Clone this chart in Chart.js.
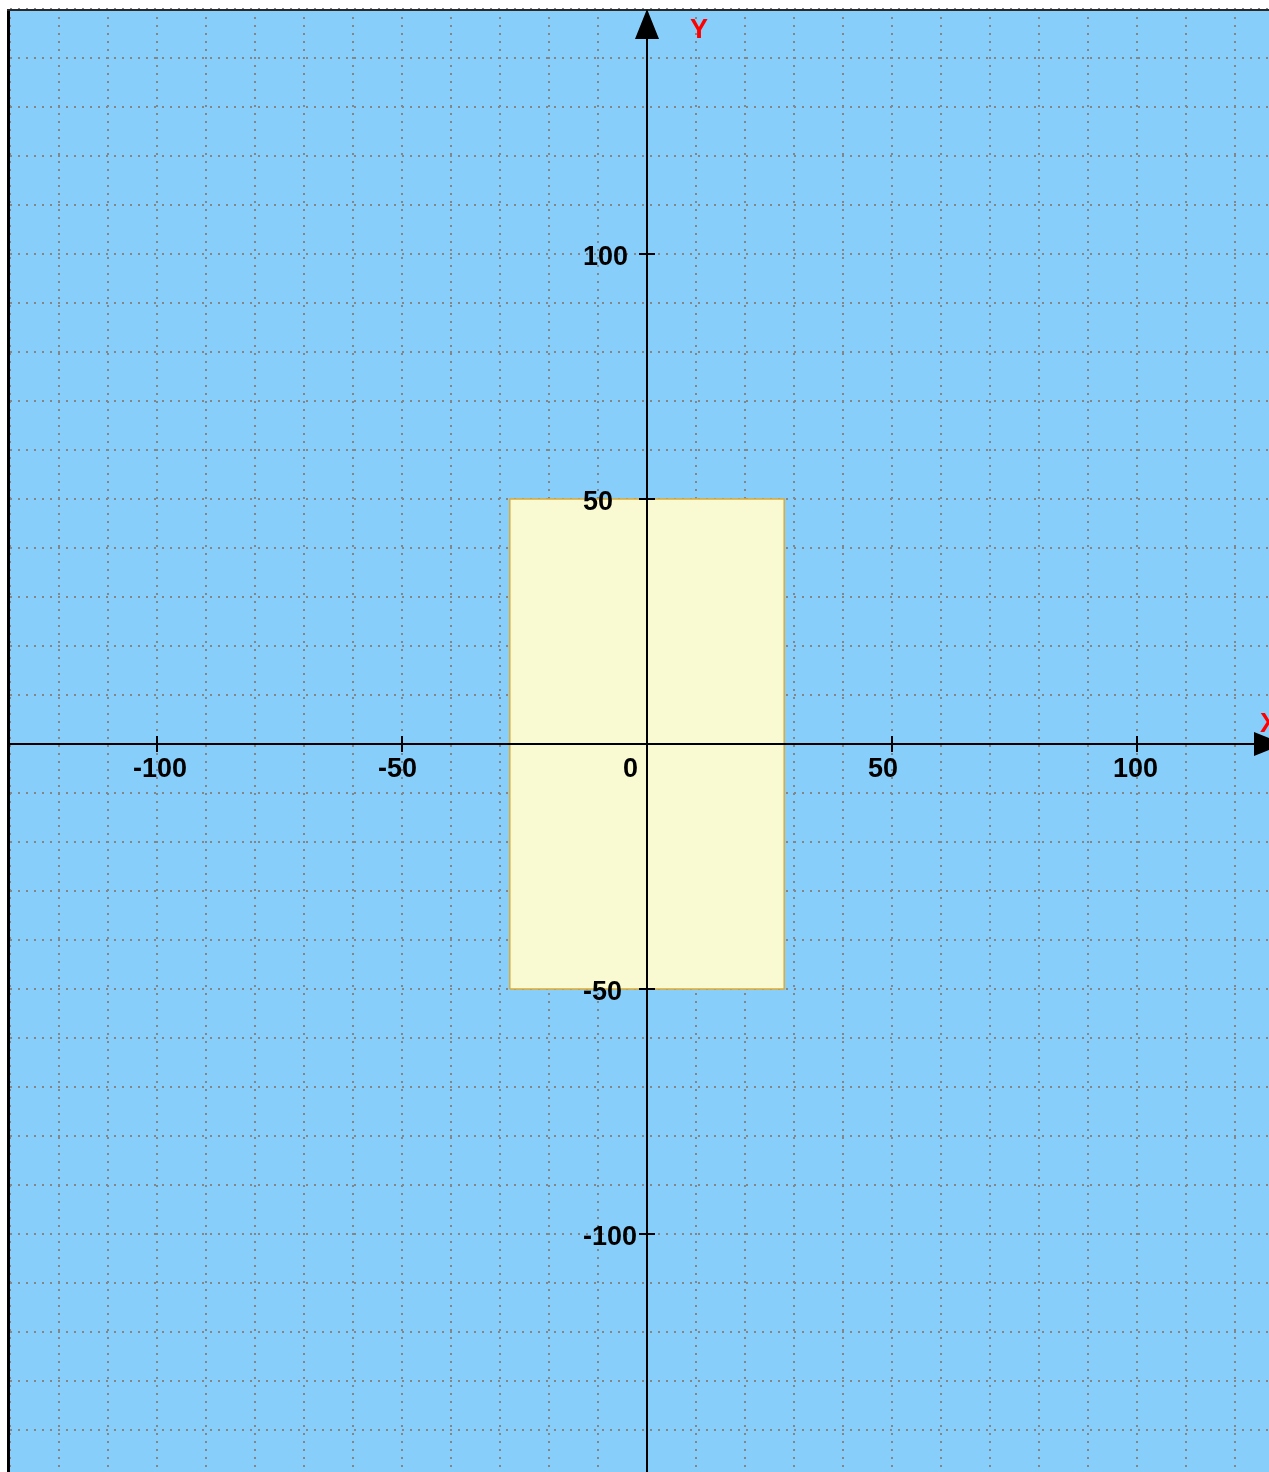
<!DOCTYPE html>
<html>
<head>
<meta charset="utf-8">
<script src="https://cdn.jsdelivr.net/npm/chart.js@4/dist/chart.umd.min.js"></script>
<style>
  html, body { margin: 0; padding: 0; background: #fff; overflow: hidden; }
  #plot { position: absolute; left: 7px; top: 8px; }
</style>
</head>
<body>
<canvas id="plot" width="1290" height="1490"></canvas>
<script>
// shape corners (closed)
const rectX = [-28, -28, 28, 28, -28];
const rectY = [-50, 50, 50, -50, -50];
// axis labels
const xTicks = [-100, -50, 0, 50, 100];
const yTicks = [100, 50, -50, -100];
const xRange = [-130, 130];
const yRange = [-150, 150];

var pts = rectX.map(function (x, i) { return { x: x, y: rectY[i] }; });

// background + frame + axes
const planePlugin = {
  id: 'plane',
  beforeDraw(chart) {
    const ctx = chart.ctx, a = chart.chartArea;
    ctx.save();
    ctx.fillStyle = '#87CEFA';
    ctx.fillRect(a.left, a.top, a.right - a.left, a.bottom - a.top);
    ctx.restore();
  },
  afterDraw(chart) {
    const ctx = chart.ctx, a = chart.chartArea;
    const sx = chart.scales.x, sy = chart.scales.y;
    const x0 = sx.getPixelForValue(0), y0 = sy.getPixelForValue(0);
    ctx.save();
    // frame
    ctx.fillStyle = '#000';
    ctx.fillRect(0, 1, 3, chart.height);
    ctx.fillStyle = '#2a2a2a';
    ctx.fillRect(0, 1, chart.width, 2);

    ctx.strokeStyle = '#000';
    ctx.fillStyle = '#000';
    ctx.lineWidth = 2;
    // axes
    ctx.beginPath();
    ctx.moveTo(x0, sy.getPixelForValue(yRange[1]) + 20);
    ctx.lineTo(x0, a.bottom);
    ctx.moveTo(a.left, y0);
    ctx.lineTo(sx.getPixelForValue(xRange[1]) - 20, y0);
    ctx.stroke();
    // arrows
    let ty = sy.getPixelForValue(yRange[1]);
    ctx.beginPath();
    ctx.moveTo(x0, ty);
    ctx.lineTo(x0 - 12, ty + 30);
    ctx.lineTo(x0 + 12, ty + 30);
    ctx.closePath();
    ctx.fill();
    let tx = sx.getPixelForValue(xRange[1]);
    ctx.beginPath();
    ctx.moveTo(tx, y0);
    ctx.lineTo(tx - 30, y0 - 12);
    ctx.lineTo(tx - 30, y0 + 12);
    ctx.closePath();
    ctx.fill();

    // ticks and labels
    ctx.font = 'bold 27px "Liberation Sans", Arial, sans-serif';
    ctx.textAlign = 'left';
    ctx.textBaseline = 'middle';
    xTicks.forEach(function (v) {
      const px = sx.getPixelForValue(v);
      if (v !== 0) {
        ctx.beginPath();
        ctx.moveTo(px, y0 - 8);
        ctx.lineTo(px, y0 + 8);
        ctx.stroke();
      }
      ctx.fillText(String(v), px - 24, y0 + 26);
    });
    yTicks.forEach(function (v) {
      const py = sy.getPixelForValue(v);
      ctx.beginPath();
      ctx.moveTo(x0 - 8, py);
      ctx.lineTo(x0 + 8, py);
      ctx.stroke();
      ctx.fillText(String(v), x0 - 64, py + 4);
    });

    // axis names
    ctx.fillStyle = '#ff0000';
    ctx.fillText('Y', x0 + 43, ty + 22);
    ctx.fillText('X', tx - 24, y0 - 19);
    ctx.restore();
  }
};

new Chart(document.getElementById('plot'), {
  type: 'scatter',
  data: {
    datasets: [{
      data: pts,
      showLine: true,
      fill: 'shape',
      backgroundColor: '#FAFAD2',
      borderColor: '#DDA935',
      borderWidth: 1.5,
      pointRadius: 0,
      tension: 0
    }]
  },
  options: {
    responsive: false,
    animation: false,
    events: [],
    layout: { padding: { left: 3, top: 1, right: 13, bottom: 19 } },
    plugins: { legend: { display: false }, tooltip: { enabled: false } },
    scales: {
      x: {
        type: 'linear', min: xRange[0], max: xRange[1], z: 1,
        ticks: { display: false, stepSize: 10 },
        grid: { color: '#858585', lineWidth: 2, drawTicks: false },
        border: { display: false, dash: [2, 6] }
      },
      y: {
        type: 'linear', min: yRange[0], max: yRange[1], z: 1,
        ticks: { display: false, stepSize: 10 },
        grid: { color: '#858585', lineWidth: 2, drawTicks: false },
        border: { display: false, dash: [2, 6] }
      }
    }
  },
  plugins: [planePlugin]
});
</script>
</body>
</html>
